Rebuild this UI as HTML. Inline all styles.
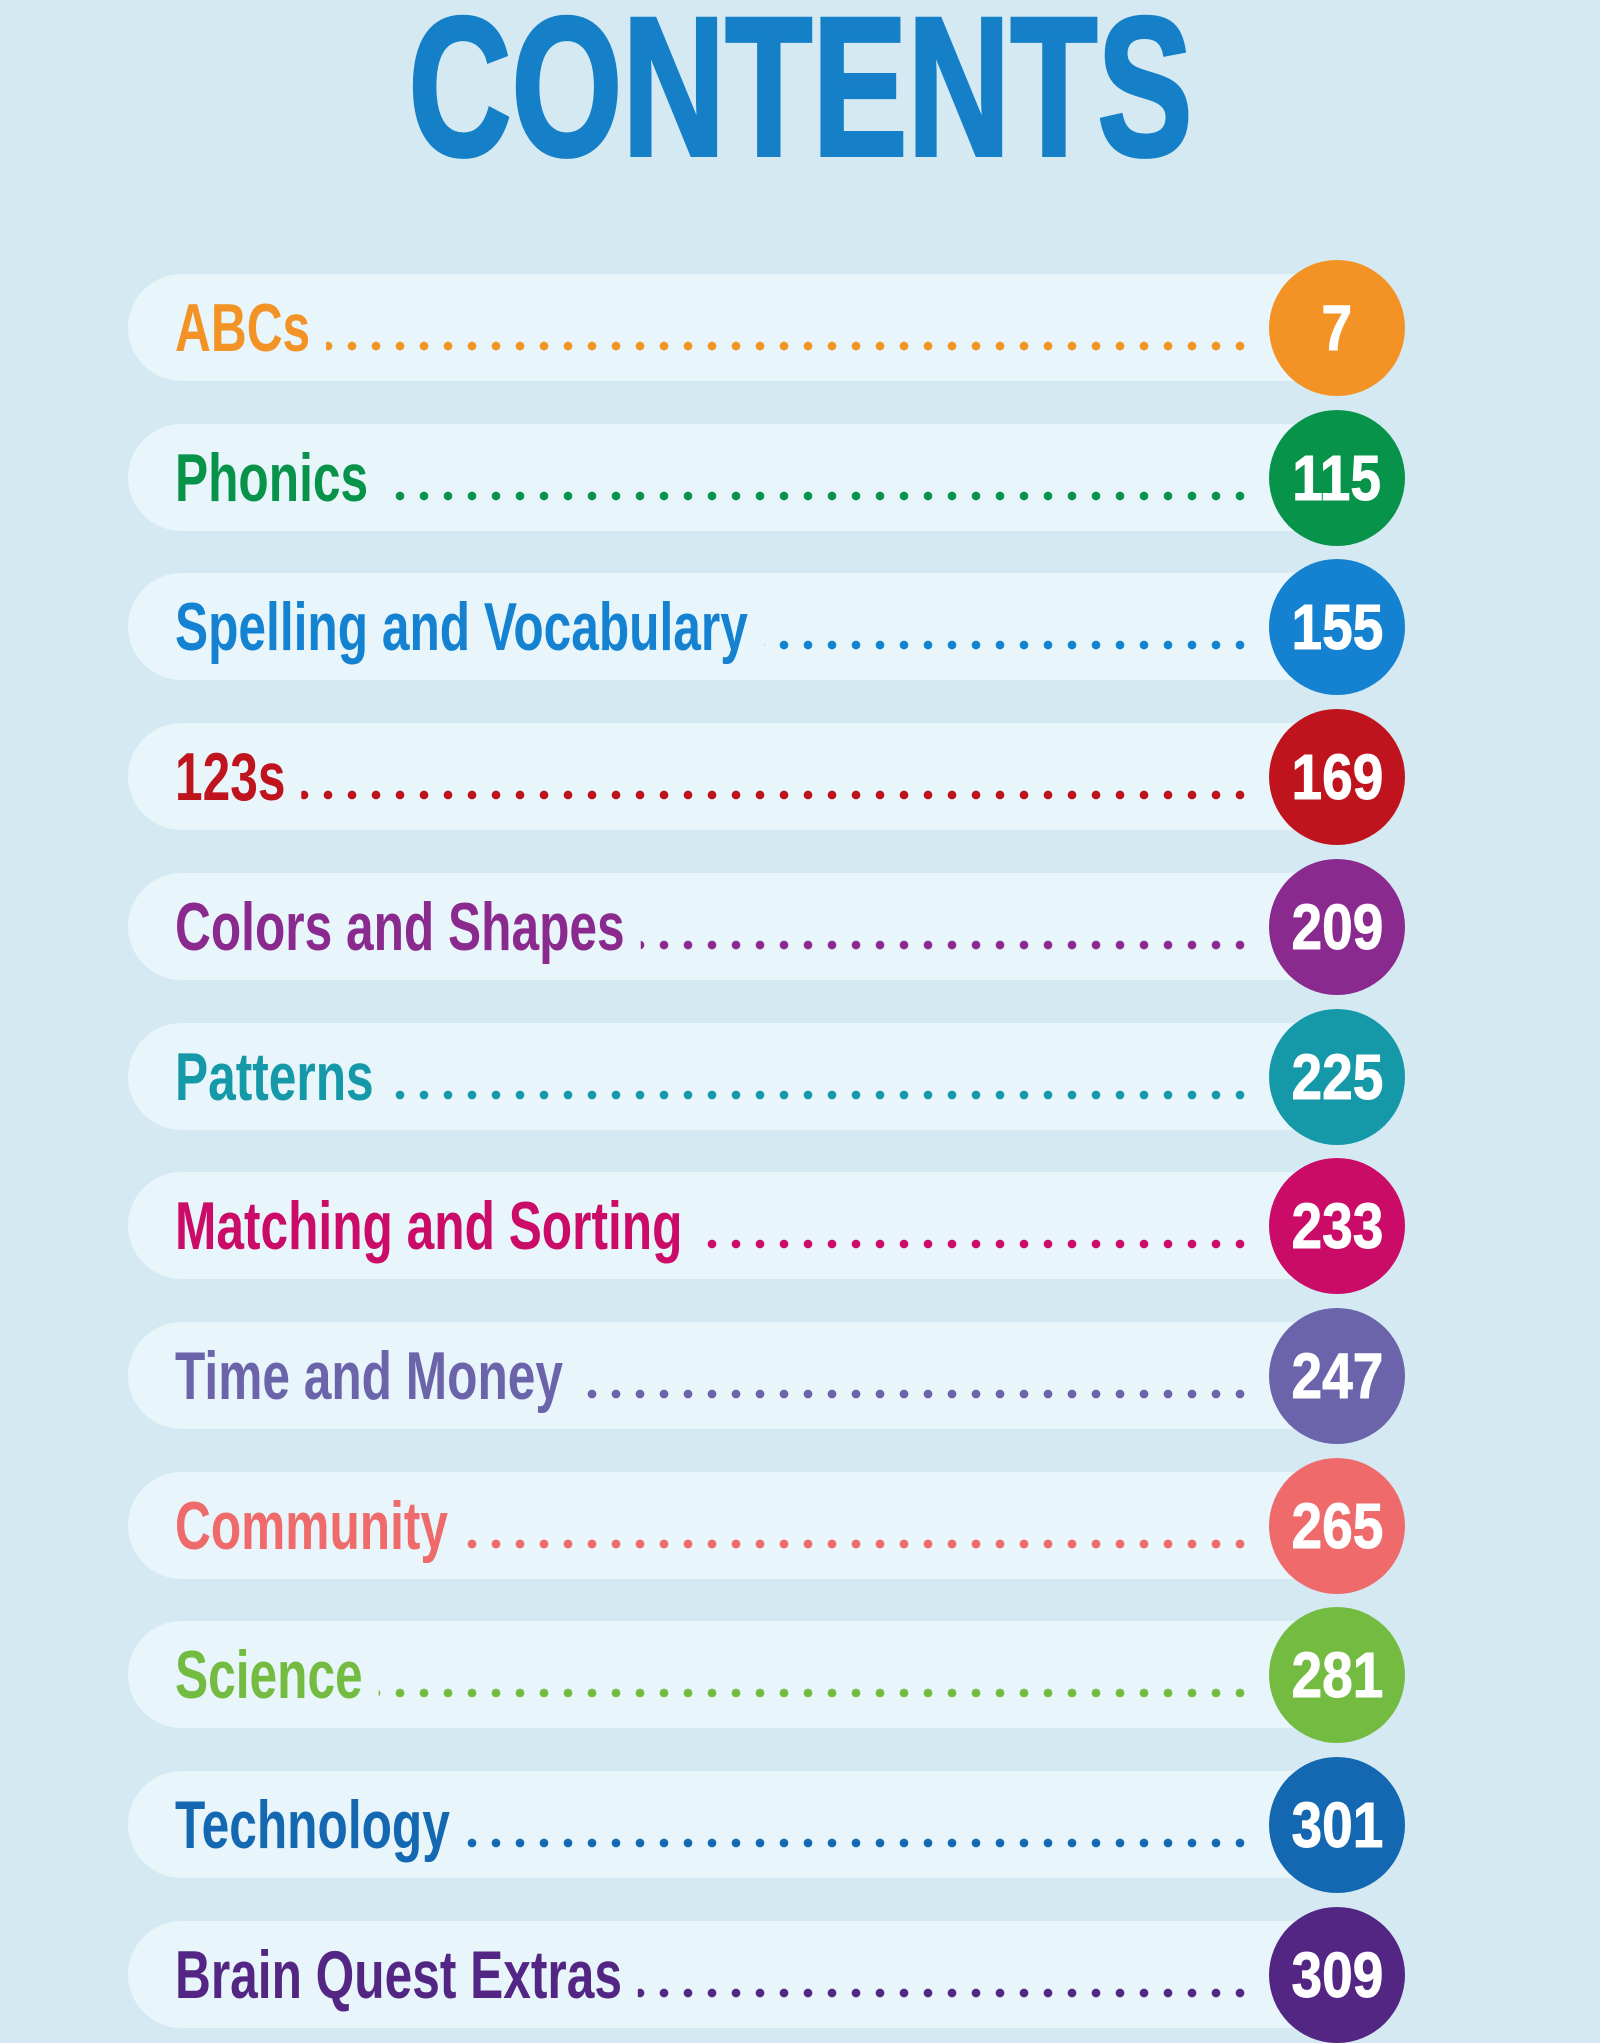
<!DOCTYPE html>
<html><head><meta charset="utf-8"><style>
html,body{margin:0;padding:0}
body{width:1600px;height:2000px;overflow:hidden;background:#d5e9f2;position:relative;font-family:"Liberation Sans",sans-serif}
.title{position:absolute;left:0;width:1600px;top:-27px;text-align:center;font-weight:bold;font-size:198px;color:#1580c8;-webkit-text-stroke:4px #1580c8}
.title span{display:inline-block;transform:scaleX(0.72);transform-origin:center}
.row{position:absolute;left:128px;width:1240px;height:107px}
.pill{position:absolute;left:0;top:0;width:1240px;height:107px;border-radius:54px;background:#e8f5fb}
.lead{position:absolute;left:50px;width:1081px;top:67px;height:10px}
.lab{position:absolute;left:47px;top:14px;font-weight:bold;font-size:68px;line-height:80px;background:#e8f5fb;padding-right:22px;transform:scaleX(0.73);transform-origin:left center;white-space:nowrap}
.c{position:absolute;left:1141px;top:-14px;width:136px;height:136px;border-radius:50%;color:#fff;font-weight:bold;font-size:64px;line-height:136px;text-align:center}
.c span{display:inline-block;transform:scaleX(0.86);-webkit-text-stroke:1px #fff}
</style></head><body>
<div class="title"><span>CONTENTS</span></div>
<div id="r"></div>
<script>
var d=[["ABCs","7","#f39325"],["Phonics","115","#07934a"],["Spelling and Vocabulary","155","#1482d0"],["123s","169","#bf141e"],["Colors and Shapes","209","#8a2a8f"],["Patterns","225","#1599a8"],["Matching and Sorting","233","#cb0b68"],["Time and Money","247","#6b64ab"],["Community","265","#ef6b6b"],["Science","281","#74bb42"],["Technology","301","#1467b1"],["Brain Quest Extras","309","#532684"]];
var h="";
d.forEach(function(x,i){var cy=328+i*149.7;
h+='<div class="row" style="top:'+(cy-54)+'px"><div class="pill"></div><div class="lead" style="background:radial-gradient(circle at 5px 5px,'+x[2]+' 4px,transparent 4.6px) right 0 top 0/24px 10px repeat-x"></div><div class="lab" style="color:'+x[2]+'">'+x[0]+'</div><div class="c" style="background:'+x[2]+'"><span>'+x[1]+'</span></div></div>';});
document.getElementById("r").innerHTML=h;
</script>
</body></html>
